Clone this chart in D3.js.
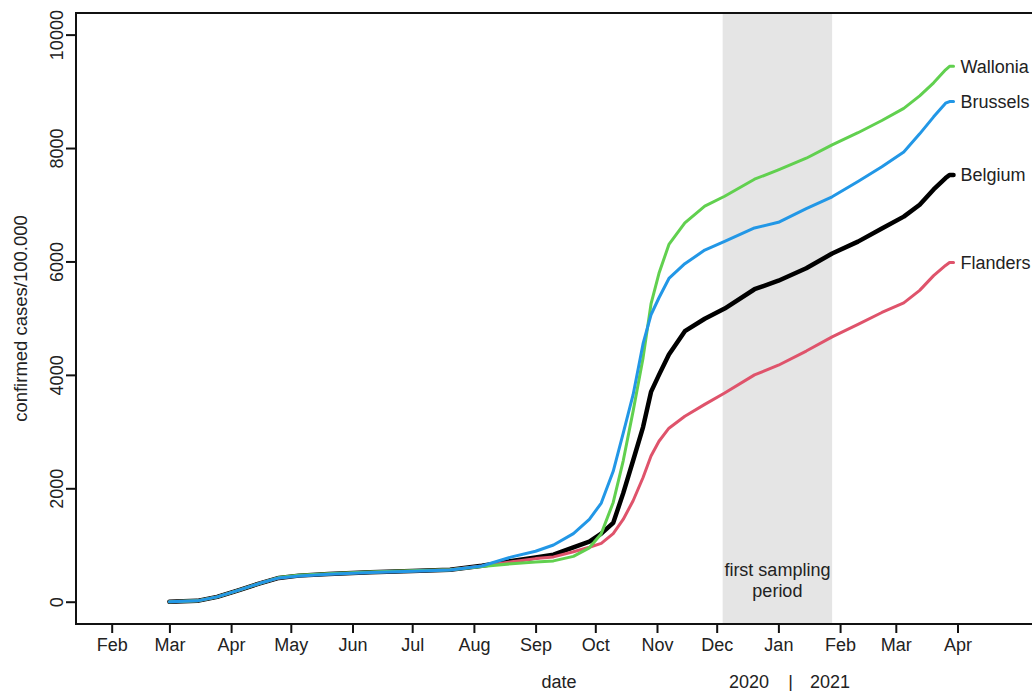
<!DOCTYPE html>
<meta charset="utf-8">
<script src="https://d3js.org/d3.v7.min.js"></script>
<style>
  body { margin: 0; background: #fff; }
  text { font-family: "Liberation Sans", Arial, sans-serif; fill: #222; }
</style>
<div id="chart"></div>
<script>

// dates shared by all regions (cumulative confirmed cases per 100.000)
const dates = [
  "2020-03-01","2020-03-15","2020-03-25","2020-04-05","2020-04-15","2020-04-25",
  "2020-05-05","2020-05-20","2020-06-10","2020-07-01","2020-07-20","2020-08-05",
  "2020-08-20","2020-09-01","2020-09-10","2020-09-20","2020-09-28","2020-10-04",
  "2020-10-10","2020-10-15","2020-10-20","2020-10-25","2020-10-29","2020-11-02",
  "2020-11-07","2020-11-15","2020-11-25","2020-12-05","2020-12-20","2021-01-01",
  "2021-01-15","2021-01-28","2021-02-10","2021-02-22","2021-03-05","2021-03-13",
  "2021-03-20","2021-03-26","2021-03-28","2021-03-30"
];

const belgium = [0,15,85,205,320,420,460,490,520,540,565,635,720,780,830,960,1060,1200,
  1390,1910,2490,3080,3700,4000,4360,4770,4990,5170,5510,5660,5880,6140,6350,6580,6790,7000,
  7270,7470,7526,7526];
const flanders = [0,15,85,205,320,420,460,490,520,540,565,630,705,760,790,880,960,1030,
  1200,1450,1780,2190,2570,2830,3060,3270,3480,3680,4000,4170,4420,4670,4890,5100,5270,5490,
  5750,5930,5980,5980];
const wallonia = [0,15,85,205,320,425,465,495,525,545,565,620,670,700,720,800,950,1200,
  1750,2480,3360,4300,5250,5790,6300,6680,6975,7150,7450,7615,7820,8055,8270,8485,8700,8920,
  9150,9380,9440,9440];
const brussels = [0,15,85,205,320,420,455,485,515,535,560,630,790,890,1000,1200,1450,1740,
  2300,2970,3650,4550,5060,5360,5700,5960,6200,6355,6590,6690,6930,7140,7410,7670,7930,8250,
  8550,8790,8820,8820];

const regions = ["Belgium", "Flanders", "Wallonia", "Brussels"];
const regionValues = [belgium, flanders, wallonia, brussels];
const regionColors = ["#000000", "#DF536B", "#61D04F", "#2297E6"];
const regionWidths = [4.5, 3, 3, 3];

const yTicks = [0, 2000, 4000, 6000, 8000, 10000];
const monthTicks = [
  "2020-02-01","2020-03-01","2020-04-01","2020-05-01","2020-06-01","2020-07-01",
  "2020-08-01","2020-09-01","2020-10-01","2020-11-01","2020-12-01","2021-01-01",
  "2021-02-01","2021-03-01","2021-04-01"
];
const samplingPeriod = ["2020-12-04", "2021-01-28"];
const yearLabels = ["2020", "|", "2021"];

const width = 1032, height = 691;
const margin = {top: 13, right: -10, bottom: 67, left: 76};
const parse = d3.timeParse("%Y-%m-%d");
const font = "'Liberation Sans', Arial, sans-serif";

const svg = d3.select("#chart").append("svg")
  .attr("width", width)
  .attr("height", height);

// x: 1 Feb 2020 .. 1 Apr 2021 mapped to the month tick positions
const x = d3.scaleTime()
  .domain([parse("2020-02-01"), parse("2021-04-01")])
  .range([111.7, 957.5]);

const y = d3.scaleLinear()
  .domain([-393, 10381])
  .range([height - margin.bottom, margin.top]);

const plotRight = width - margin.right;
const plotBottom = height - margin.bottom;

// shaded sampling period
svg.append("rect")
  .attr("x", x(parse(samplingPeriod[0])))
  .attr("y", margin.top)
  .attr("width", x(parse(samplingPeriod[1])) - x(parse(samplingPeriod[0])))
  .attr("height", plotBottom - margin.top)
  .attr("fill", "#e5e5e5");

const midShade = (x(parse(samplingPeriod[0])) + x(parse(samplingPeriod[1]))) / 2;
svg.append("text")
  .attr("x", midShade).attr("y", 576)
  .attr("text-anchor", "middle")
  .style("font-size", "18px")
  .text("first sampling");
svg.append("text")
  .attr("x", midShade).attr("y", 597)
  .attr("text-anchor", "middle")
  .style("font-size", "18px")
  .text("period");

// lines
const line = d3.line()
  .x((d, i) => x(parse(dates[i])))
  .y(d => y(d));

regionValues.forEach(function(vals, k) {
  svg.append("path")
    .datum(vals)
    .attr("d", line)
    .attr("fill", "none")
    .attr("stroke", regionColors[k])
    .attr("stroke-width", regionWidths[k])
    .attr("stroke-linejoin", "round")
    .attr("stroke-linecap", "round");
});

// labels at the line ends
const lastDate = parse(dates[dates.length - 1]);
regionValues.forEach(function(vals, k) {
  svg.append("text")
    .attr("x", x(lastDate) + 7)
    .attr("y", y(vals[vals.length - 1]))
    .attr("dy", "0.35em")
    .style("font-size", "18px")
    .text(regions[k]);
});

// box
svg.append("rect")
  .attr("x", margin.left)
  .attr("y", margin.top)
  .attr("width", plotRight - margin.left)
  .attr("height", plotBottom - margin.top)
  .attr("fill", "none")
  .attr("stroke", "#111")
  .attr("stroke-width", 2);

// x axis
const xAxis = svg.append("g")
  .attr("transform", "translate(0," + plotBottom + ")")
  .call(d3.axisBottom(x)
    .tickValues(monthTicks.map(parse))
    .tickFormat(d3.timeFormat("%b"))
    .tickSize(9)
    .tickPadding(5)
    .tickSizeOuter(0));
xAxis.select(".domain").remove();
xAxis.selectAll("line").attr("stroke", "#111").attr("stroke-width", 2);
xAxis.selectAll("text")
  .style("font-size", "18px")
  .style("font-family", font)
  .attr("fill", "#222");

// y axis
const yAxis = svg.append("g")
  .attr("transform", "translate(" + margin.left + ",0)")
  .call(d3.axisLeft(y)
    .tickValues(yTicks)
    .tickFormat(d3.format("d"))
    .tickSize(10)
    .tickSizeOuter(0));
yAxis.select(".domain").remove();
yAxis.selectAll("line").attr("stroke", "#111").attr("stroke-width", 2);
yAxis.selectAll("text")
  .attr("x", null).attr("dy", null)
  .attr("transform", "translate(-13,0) rotate(-90)")
  .attr("text-anchor", "middle")
  .style("font-size", "18px")
  .style("font-family", font)
  .attr("fill", "#222");

// axis titles
svg.append("text")
  .attr("transform", "translate(27," + ((margin.top + plotBottom) / 2) + ") rotate(-90)")
  .attr("text-anchor", "middle")
  .style("font-size", "18.5px")
  .text("confirmed cases/100.000");

svg.append("text")
  .attr("x", (margin.left + plotRight) / 2)
  .attr("y", 688)
  .attr("text-anchor", "middle")
  .style("font-size", "18px")
  .text("date");

// year separator under the Dec-Jan boundary
const yearX = [769, 790.7, 810];
const yearAnchor = ["end", "middle", "start"];
yearLabels.forEach(function(t, i) {
  svg.append("text")
    .attr("x", yearX[i])
    .attr("y", 688)
    .attr("text-anchor", yearAnchor[i])
    .style("font-size", "18px")
    .text(t);
});

</script>
